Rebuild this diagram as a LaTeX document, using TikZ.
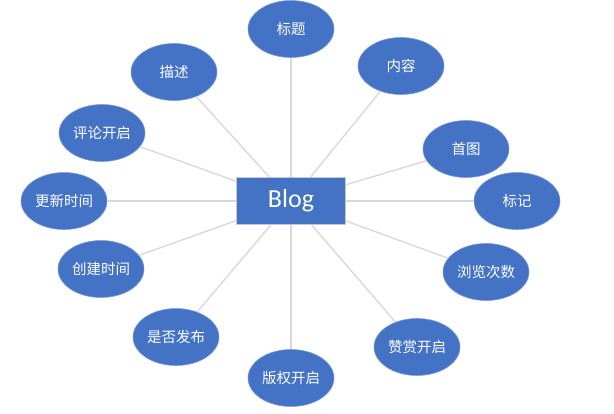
\documentclass[tikz,border=0pt]{standalone}
\usepackage{fontspec}
\setmainfont{Carlito}
\newfontfamily\cjk{Noto Sans CJK SC}
\usetikzlibrary{shapes.geometric}

\definecolor{officeblue}{HTML}{4472C4}
\definecolor{linegray}{HTML}{D9D9D9}

\begin{document}
\begin{tikzpicture}[x=1pt, y=-1pt,
    field/.style={ellipse, fill=officeblue, draw=officeblue!70!white, line width=0.6pt,
        minimum width=86pt, minimum height=57pt, inner sep=0pt, text=white, font=\cjk\fontsize{14.5}{16}\selectfont},
    entity/.style={rectangle, fill=officeblue, draw=gray!45, line width=0.8pt,
        minimum width=109pt, minimum height=47pt, text=white, font=\fontsize{26}{28}\selectfont},
    link/.style={linegray, line width=1.4pt}]
    \useasboundingbox (0,0) rectangle (614,413);

    % Center
    \node[entity] (blog) at (291,201) {Blog};

    % Fields, top half
    \node[field] (title) at (291,29) {标题};
    \node[field] (desc) at (174,72) {描述};
    \node[field] (content) at (401,66) {内容};
    \node[field] (comment) at (102,133) {评论开启};
    \node[field] (cover) at (466,149) {首图};
    \node[field] (update) at (64,201) {更新时间};
    \node[field] (tag) at (517,201) {标记};

    % Fields, bottom half
    \node[field] (create) at (101,269) {创建时间};
    \node[field] (views) at (486,272) {浏览次数};
    \node[field] (publish) at (176,337) {是否发布};
    \node[field] (reward) at (417,347) {赞赏开启};
    \node[field] (copyright) at (291,378) {版权开启};

    % Links
    \draw[link] (blog) -- (title);
    \draw[link] (blog) -- (desc);
    \draw[link] (blog) -- (content);
    \draw[link] (blog) -- (comment);
    \draw[link] (blog) -- (cover);
    \draw[link] (blog) -- (update);
    \draw[link] (blog) -- (tag);
    \draw[link] (blog) -- (create);
    \draw[link] (blog) -- (views);
    \draw[link] (blog) -- (publish);
    \draw[link] (blog) -- (reward);
    \draw[link] (blog) -- (copyright);
\end{tikzpicture}
\end{document}
